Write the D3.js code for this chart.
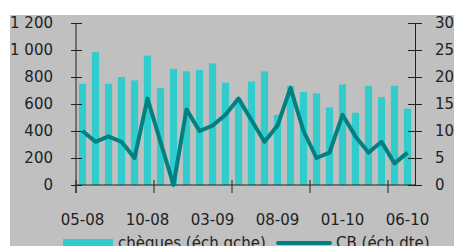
<!DOCTYPE html>
<html>
<head>
<meta charset="utf-8">
<script src="https://cdn.jsdelivr.net/npm/d3@7"></script>
<style>
  body { margin: 0; background: #fff; }
  text { font-family: "DejaVu Sans", Verdana, sans-serif; fill: #222; }
</style>
</head>
<body>
<div class="chart"></div>
<script>
// months 05-08 .. 06-10
const months = ['05-08','06-08','07-08','08-08','09-08','10-08','11-08','12-08',
  '01-09','02-09','03-09','04-09','05-09','06-09','07-09','08-09','09-09','10-09',
  '11-09','12-09','01-10','02-10','03-10','04-10','05-10','06-10'];
// chèques (left scale)
const cheques = [750, 985, 750, 800, 775, 958, 718, 861, 842, 852, 901, 758, 640,
  767, 842, 520, 735, 689, 679, 575, 745, 535, 735, 652, 735, 565];
// CB (right scale)
const cb = [10, 8, 9, 8, 5, 16, 8, 0, 14, 10, 11, 13, 16, 12, 8, 11, 18, 10, 5, 6,
  13, 9, 6, 8, 4, 6];
const leftTicks = [0, 200, 400, 600, 800, 1000, 1200];
const rightTicks = [0, 5, 10, 15, 20, 25, 30];
const xLabels = ['05-08', '10-08', '03-09', '08-09', '01-10', '06-10'];
const seriesNames = ['chèques (éch.gche)', 'CB (éch.dte)'];

const W = 454, H = 246;
const barColor = '#33cccc', lineColor = '#008080', bg = '#c0c0c0';

const svg = d3.select('.chart').append('svg')
  .attr('width', W).attr('height', H);

// grey chart area
svg.append('rect').attr('x', 10).attr('y', 15)
  .attr('width', W - 10).attr('height', H - 15).attr('fill', bg);

const x = d3.scaleBand().domain(months).range([76, 414])
  .paddingInner(0.45).paddingOuter(0.225);
const step = x.step();
const yL = d3.scaleLinear().domain([0, 1200]).range([185, 23]);
const yR = d3.scaleLinear().domain([0, 30]).range([185, 23]);

const fmt = d3.formatLocale({decimal: ',', thousands: ' ', grouping: [3], currency: ['', '']}).format(',d');

// bars
svg.append('g').selectAll('rect').data(cheques).enter().append('rect')
  .attr('x', (d, i) => x(months[i]))
  .attr('y', d => yL(d))
  .attr('width', x.bandwidth())
  .attr('height', d => yL(0) - yL(d))
  .attr('fill', barColor);

// axes
const axL = svg.append('g').attr('transform', 'translate(76,0)')
  .call(d3.axisLeft(yL).tickValues(leftTicks).tickFormat(fmt).tickSizeOuter(0).tickSizeInner(5).tickPadding(18));
axL.selectAll('.tick line').attr('x1', -5).attr('x2', 6);
axL.select('.domain').attr('d', 'M0,' + yL(1200) + 'V' + (yL(0) + 8));

const axR = svg.append('g').attr('transform', 'translate(415,0)')
  .call(d3.axisRight(yR).tickValues(rightTicks).tickSizeOuter(0).tickSizeInner(7).tickPadding(13));
axR.selectAll('.tick line').attr('x1', -7).attr('x2', 7);

const axB = svg.append('g').attr('transform', 'translate(0,185)');
axB.append('line').attr('x1', 76).attr('x2', 415).attr('y1', 0).attr('y2', 0);
axB.selectAll('.tk').data(months.filter((d, i) => i % 6 === 0)).enter().append('line')
  .attr('class', 'tk')
  .attr('x1', d => x(d) - x.paddingOuter() * step)
  .attr('x2', d => x(d) - x.paddingOuter() * step)
  .attr('y1', -5).attr('y2', 8);
axB.selectAll('line').attr('stroke', '#222');
axB.selectAll('text').data(xLabels).enter().append('text')
  .attr('x', d => x(d) + x.bandwidth() / 2)
  .attr('y', 40)
  .attr('text-anchor', 'middle')
  .attr('font-size', 15)
  .text(d => d);

[axL, axR].forEach(a => {
  a.selectAll('line, path').attr('stroke', '#222');
  a.selectAll('text').attr('font-size', 15).attr('font-family', '"DejaVu Sans", Verdana, sans-serif').attr('fill', '#222');
});

// CB line
const line = d3.line()
  .x((d, i) => x(months[i]) + x.bandwidth() / 2)
  .y(d => yR(d));
svg.append('path').datum(cb)
  .attr('d', line)
  .attr('fill', 'none')
  .attr('stroke', lineColor)
  .attr('stroke-width', 4)
  .attr('stroke-linejoin', 'round');

// legend
const leg = svg.append('g');
leg.append('rect').attr('x', 63).attr('y', 239).attr('width', 50).attr('height', 12).attr('fill', barColor);
leg.append('text').attr('x', 118).attr('y', 248).attr('font-size', 15).text(seriesNames[0]);
leg.append('line').attr('x1', 278).attr('x2', 330).attr('y1', 243).attr('y2', 243)
  .attr('stroke', lineColor).attr('stroke-width', 4).attr('stroke-linecap', 'round');
leg.append('text').attr('x', 336).attr('y', 248).attr('font-size', 15).text(seriesNames[1]);
</script>
</body>
</html>
